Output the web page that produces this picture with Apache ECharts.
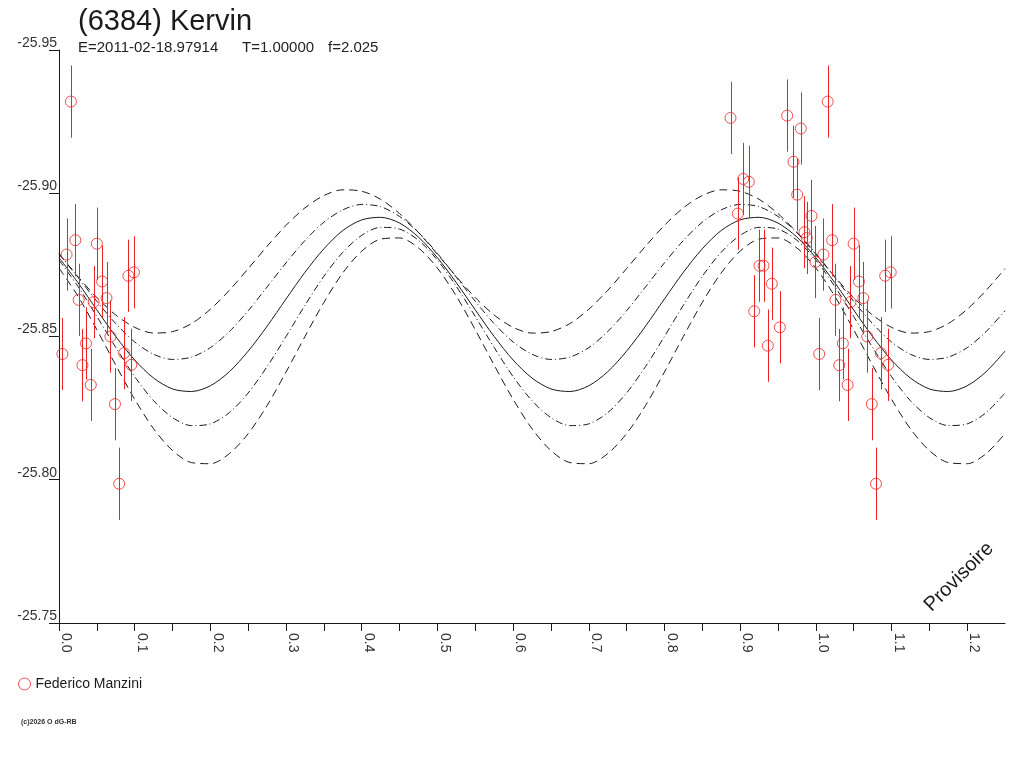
<!DOCTYPE html>
<html>
<head>
<meta charset="utf-8">
<script src="https://cdn.jsdelivr.net/npm/echarts@6/dist/echarts.min.js"></script>
<style>
  html, body { margin: 0; padding: 0; background: #fff; }
  #chart { width: 1024px; height: 768px; }
</style>
</head>
<body>
<div id="chart"></div>
<script>
// observations (phase, reduced magnitude), error bar half-length
var obsPhase = [0.0157, 0.010, 0.0216, 0.050, 0.057, 0.0917, 0.099, 0.026, 0.0458, 0.0628,
  0.0045, 0.0357, 0.031, 0.042, 0.068, 0.086, 0.0955, 0.074, 0.0795,
  0.8873, 0.9622, 0.9802, 0.9705, 0.9041, 0.9115, 0.9754, 0.897, 0.9943, 0.985,
  0.988, 0.9996, 0.9256, 0.9309, 0.9419, 0.9186, 0.9525, 0.9366];
var obsMag = [-25.9320, -25.8786, -25.8836, -25.8824, -25.8692, -25.8712, -25.8724, -25.8628, -25.8620, -25.8634,
  -25.8439, -25.8476, -25.8400, -25.8331, -25.8500, -25.8442, -25.8401, -25.8264, -25.7986,
  -25.9263, -25.9271, -25.9226, -25.9110, -25.9050, -25.9040, -25.8995, -25.8929, -25.8921, -25.8864,
  -25.8844, -25.8760, -25.8747, -25.8747, -25.8684, -25.8588, -25.8532, -25.8468];
var obsErr = 0.0126;

// fitted curve and envelopes, one period (phase 0 .. 0.475, step 0.025)
var fitMag = [-25.8775, -25.8688, -25.8593, -25.8500, -25.8418, -25.8355, -25.8317, -25.8308, -25.8328, -25.8377,
  -25.8449, -25.8536, -25.8631, -25.8724, -25.8806, -25.8870, -25.8907, -25.8916, -25.8896, -25.8847];
var upperInner = [-25.8790, -25.8707, -25.8623, -25.8545, -25.8481, -25.8438, -25.8420, -25.8428, -25.8461, -25.8517,
  -25.8590, -25.8673, -25.8757, -25.8835, -25.8899, -25.8942, -25.8961, -25.8953, -25.8919, -25.8863];
var lowerInner = [-25.8767, -25.8675, -25.8570, -25.8462, -25.8360, -25.8276, -25.8217, -25.8189, -25.8195, -25.8234,
  -25.8303, -25.8395, -25.8500, -25.8609, -25.8710, -25.8794, -25.8853, -25.8881, -25.8875, -25.8836];
var upperOuter = [-25.8787, -25.8709, -25.8636, -25.8575, -25.8532, -25.8512, -25.8517, -25.8545, -25.8595, -25.8661,
  -25.8737, -25.8815, -25.8888, -25.8949, -25.8992, -25.9012, -25.9007, -25.8979, -25.8929, -25.8863];
var lowerOuter = [-25.8739, -25.8641, -25.8524, -25.8400, -25.8281, -25.8178, -25.8102, -25.8060, -25.8056, -25.8091,
  -25.8161, -25.8259, -25.8376, -25.8500, -25.8619, -25.8722, -25.8798, -25.8840, -25.8844, -25.8809];

var RED = '#ee2222';
var INK = '#1a1a1a';

// repeat each period over the 0..1.25 window
function tile(vals) {
  var out = [];
  for (var k = 0; k <= 50; k++) {
    out.push([+(k * 0.025).toFixed(3), vals[k % vals.length]]);
  }
  return out;
}

// points with phase < 0.25 are shown again at phase + 1
var pts = [];
for (var i = 0; i < obsPhase.length; i++) {
  pts.push([obsPhase[i], obsMag[i]]);
  if (obsPhase[i] < 0.25) pts.push([obsPhase[i] + 1, obsMag[i]]);
}

function curve(vals, type) {
  return {
    type: 'line', data: tile(vals), smooth: 0.3, symbol: 'none', silent: true,
    lineStyle: { color: INK, width: 1, type: type }, z: 2
  };
}

var dom = document.getElementById('chart');
var myChart = echarts.init(dom, null, { renderer: 'canvas' });

var option = {
  animation: false,
  backgroundColor: '#fff',
  textStyle: { fontFamily: 'Liberation Sans, Arial, sans-serif' },
  title: [
    { text: '(6384) Kervin', left: 78, top: 7, padding: 0,
      textStyle: { fontSize: 29, fontWeight: 'normal', color: INK, fontFamily: 'Liberation Sans' } },
    { text: 'E=2011-02-18.97914', left: 78, top: 40, padding: 0,
      textStyle: { fontSize: 15, fontWeight: 'normal', color: '#222', fontFamily: 'Liberation Sans' } },
    { text: 'T=1.00000', left: 242, top: 40, padding: 0,
      textStyle: { fontSize: 15, fontWeight: 'normal', color: '#222', fontFamily: 'Liberation Sans' } },
    { text: 'f=2.025', left: 328, top: 40, padding: 0,
      textStyle: { fontSize: 15, fontWeight: 'normal', color: '#222', fontFamily: 'Liberation Sans' } }
  ],
  legend: {
    left: 18, top: 677, padding: 0, itemWidth: 12, itemHeight: 12, itemGap: 6,
    data: [{ name: 'Federico Manzini', icon: 'circle',
      itemStyle: { color: '#fff', borderColor: RED, borderWidth: 1 } }],
    textStyle: { fontSize: 14, color: INK, fontFamily: 'Liberation Sans' }
  },
  grid: { left: 59, right: 19, top: 50, bottom: 145, containLabel: false },
  xAxis: {
    type: 'value', min: 0, max: 1.25, interval: 0.05,
    axisLine: { lineStyle: { color: INK, width: 1 } },
    axisTick: { length: 8, inside: false, lineStyle: { color: INK } },
    splitLine: { show: false },
    axisLabel: {
      rotate: -90, margin: 10, fontSize: 14, color: '#333', fontFamily: 'Liberation Sans',
      verticalAlign: 'bottom', showMaxLabel: false,
      formatter: function (v) {
        var n = Math.round(v * 20);
        return n % 2 === 0 ? (n / 20).toFixed(1) : '';
      }
    }
  },
  yAxis: {
    type: 'value', min: -25.95, max: -25.75, interval: 0.05, inverse: true,
    axisLine: { show: true, lineStyle: { color: INK, width: 1 } },
    axisTick: { length: 10, lineStyle: { color: INK } },
    splitLine: { show: false },
    axisLabel: {
      margin: 2, fontSize: 14, color: '#333', fontFamily: 'Liberation Sans',
      verticalAlign: 'bottom', lineHeight: 14,
      formatter: function (v) { return v.toFixed(2); }
    }
  },
  series: [
    curve(upperOuter, [8, 5]),
    curve(upperInner, [7, 3, 1, 3]),
    curve(fitMag, 'solid'),
    curve(lowerInner, [7, 3, 1, 3]),
    curve(lowerOuter, [8, 5]),
    {
      type: 'custom', silent: true, z: 3,
      itemStyle: { color: RED },
      data: pts,
      renderItem: function (params, api) {
        var x = api.value(0), y = api.value(1);
        var a = api.coord([x, y - obsErr]);
        var b = api.coord([x, y + obsErr]);
        var cx = Math.round(a[0]) + 0.5;
        return {
          type: 'line',
          shape: { x1: cx, y1: a[1], x2: cx, y2: b[1] },
          style: { stroke: RED, fill: null, lineWidth: 1 }
        };
      }
    },
    {
      name: 'Federico Manzini', type: 'scatter', data: pts, z: 4,
      symbol: 'circle', symbolSize: 11,
      itemStyle: { color: 'rgba(0,0,0,0)', borderColor: RED, borderWidth: 1 }
    }
  ],
  graphic: [
    { type: 'text', x: 959, y: 577, rotation: Math.PI / 4,
      style: { text: 'Provisoire', fontSize: 20, fill: INK, fontFamily: 'Liberation Sans',
        align: 'center', verticalAlign: 'middle' } },
    { type: 'text', left: 21, top: 719,
      style: { text: '(c)2026 O dG-RB', fontSize: 7, fontWeight: 'bold', fill: '#333', fontFamily: 'Liberation Sans' } }
  ]
};

if (option && typeof option === 'object') {
  myChart.setOption(option);
}
window.addEventListener('resize', myChart.resize);
</script>
</body>
</html>
